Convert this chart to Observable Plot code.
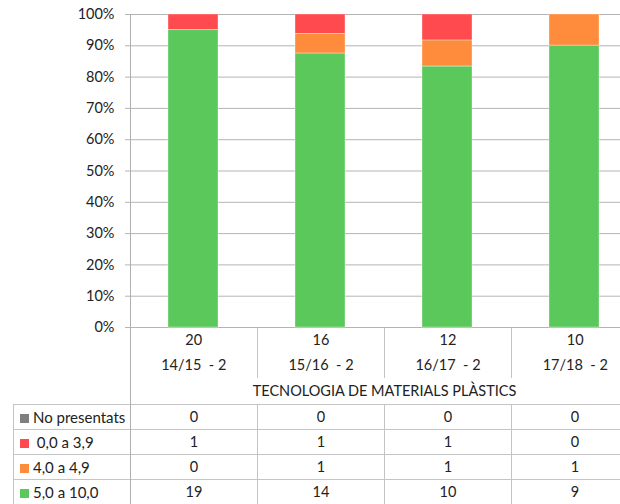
<!DOCTYPE html>
<html>
<head>
<meta charset="utf-8">
<script src="https://cdn.jsdelivr.net/npm/d3@7"></script>
<script src="https://cdn.jsdelivr.net/npm/@observablehq/plot@0.6"></script>
<style>
  html, body { margin: 0; padding: 0; background: #fff; overflow: hidden; }
  body { width: 620px; height: 504px; }
  #wrap { position: relative; width: 638px; font-family: Lato, "Open Sans", sans-serif; color: #222; }
  #chart svg { display: block; max-width: none; }
  g[aria-label="y-axis tick"] { color: #b4b4b4; }
  g[aria-label="y-axis"] line { stroke: #b4b4b4; }
  .axisline { position: absolute; left: 130px; top: 14px; height: 490px; border-left: 1px solid #b0b0b0; }
  table { border-collapse: collapse; table-layout: fixed; width: 625px; margin-left: 13px; font-size: 14.5px; color: #222; }
  td { padding: 0; text-align: center; vertical-align: middle; white-space: pre; line-height: 1; }
  tr.ax td { height: 25px; }
  tr.ax td.sep { border-right: 1px solid #c4c4c4; }
  tr.title td { height: 26px; }
  tr.data td { height: 24px; border: 1px solid #c4c4c4; }
  tr.data td.lab { text-align: left; padding-left: 6px; font-size: 15px; }
  .sw { display: inline-block; width: 9px; height: 9px; margin-right: 4px; vertical-align: 0px; }
</style>
</head>
<body>
<div id="wrap">
  <div id="chart"></div>
  <table id="tbl"></table>
  <div class="axisline"></div>
</div>
<script>
const periods = ["14/15  - 2", "15/16  - 2", "16/17  - 2", "17/18  - 2"];
const totals = [20, 16, 12, 10];
const subject = "TECNOLOGIA DE MATERIALS PLÀSTICS";
const categories = ["No presentats", " 0,0 a 3,9", "4,0 a 4,9", "5,0 a 10,0"];
const colors = ["#7f7f7f", "#ff4b4f", "#ff8c3c", "#5ac85a"];
const noPresentats = [0, 0, 0, 0];
const suspesos = [1, 1, 1, 0];
const de4a5 = [0, 1, 1, 1];
const de5a10 = [19, 14, 10, 9];
const yTicks = [0, 0.1, 0.2, 0.3, 0.4, 0.5, 0.6, 0.7, 0.8, 0.9, 1];

const series = [noPresentats, suspesos, de4a5, de5a10];
const rows = [];
categories.forEach((c, ci) => periods.forEach((p, pi) => rows.push({period: p, cat: c, count: series[ci][pi]})));

const chart = Plot.plot({
  width: 638,
  height: 328,
  marginTop: 14,
  marginBottom: 1,
  marginLeft: 130,
  marginRight: 0,
  style: {fontFamily: "Lato, 'Open Sans', sans-serif", fontSize: "14.5px", color: "#222", background: "#fff", maxWidth: "none", overflow: "visible"},
  x: {domain: periods, paddingInner: 0.606, paddingOuter: 0.303, axis: null},
  y: {domain: [0, 1], ticks: yTicks, tickFormat: d3.format(".0%"), tickSize: 5, tickPadding: 11, label: null},
  color: {domain: categories, range: colors},
  marks: [
    Plot.ruleY(yTicks, {stroke: "#b4b4b4", strokeWidth: 1}),
    Plot.barY(rows, Plot.stackY({
      offset: "normalize",
      order: [categories[3], categories[2], categories[1], categories[0]],
      x: "period", y: "count", fill: "cat",
      stroke: "#fff", strokeOpacity: 0.35, strokeWidth: 1
    }))
  ]
});
document.getElementById("chart").appendChild(chart);

// table beneath the chart
const tbl = document.getElementById("tbl");
const colgroup = document.createElement("colgroup");
[117, 127, 127, 127, 127].forEach(w => { const c = document.createElement("col"); c.style.width = w + "px"; colgroup.appendChild(c); });
tbl.appendChild(colgroup);

function axRow(vals) {
  const tr = document.createElement("tr"); tr.className = "ax";
  tr.appendChild(document.createElement("td"));
  vals.forEach((v, i) => { const td = document.createElement("td"); td.textContent = v; if (i < vals.length - 1) td.className = "sep"; tr.appendChild(td); });
  tbl.appendChild(tr);
}
axRow(totals.map(String));
axRow(periods);
{
  const tr = document.createElement("tr"); tr.className = "title";
  tr.appendChild(document.createElement("td"));
  const td = document.createElement("td"); td.colSpan = 4; td.textContent = subject; tr.appendChild(td);
  tbl.appendChild(tr);
}
categories.forEach((c, ci) => {
  const tr = document.createElement("tr"); tr.className = "data";
  const lab = document.createElement("td"); lab.className = "lab";
  const sw = document.createElement("span"); sw.className = "sw"; sw.style.background = colors[ci];
  lab.appendChild(sw); lab.appendChild(document.createTextNode(c));
  tr.appendChild(lab);
  series[ci].forEach(v => { const td = document.createElement("td"); td.textContent = v; tr.appendChild(td); });
  tbl.appendChild(tr);
});
</script>
</body>
</html>
